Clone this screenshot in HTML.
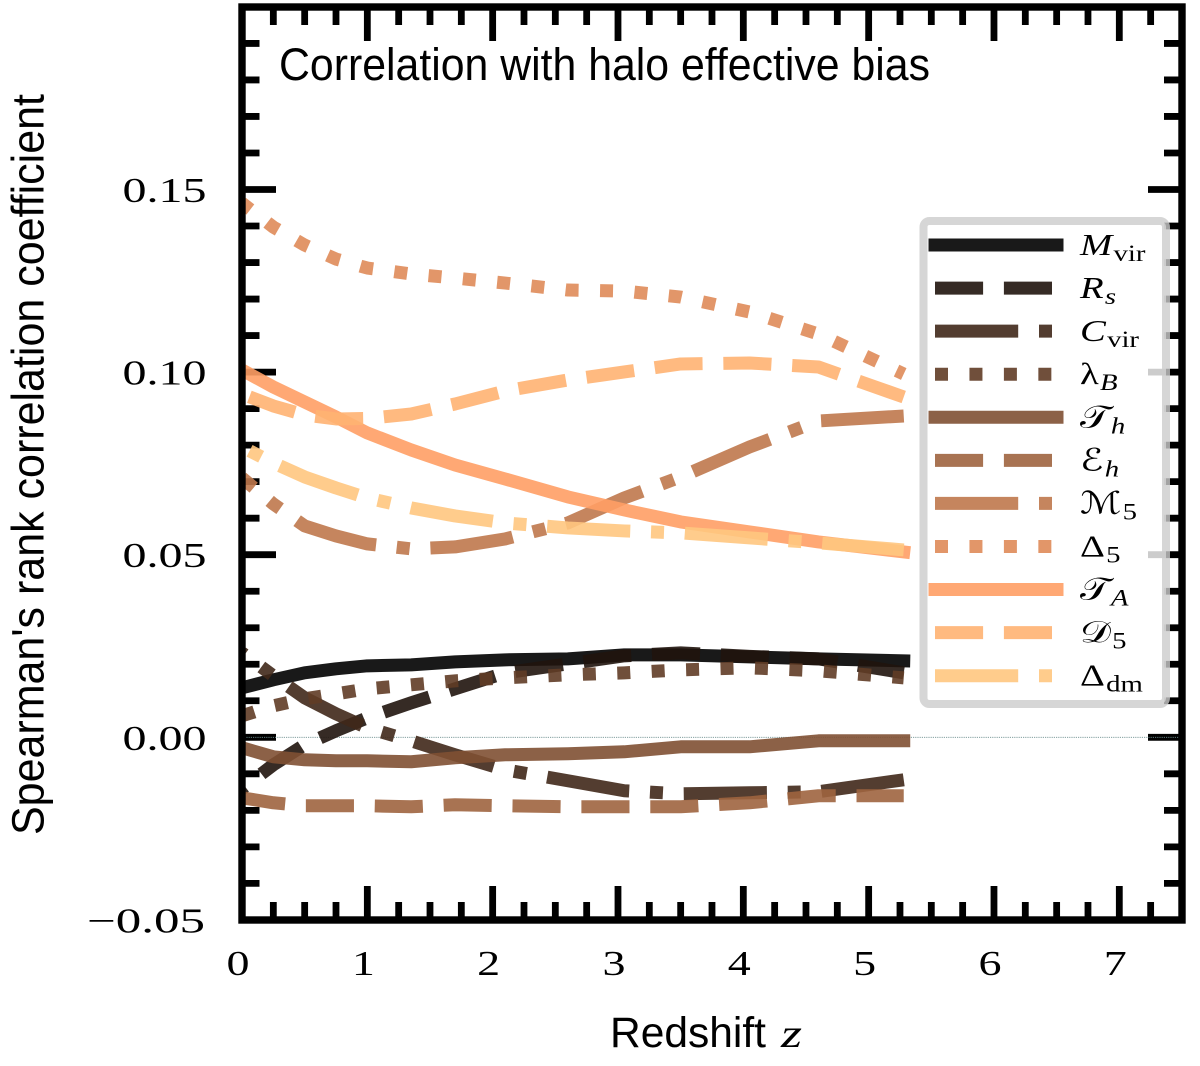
<!DOCTYPE html>
<html lang="en">
<head>
<meta charset="utf-8">
<title>Correlation with halo effective bias</title>
<style>
html,body{margin:0;padding:0;background:#fff;}
svg{display:block;}
text{fill:#000;}
.sans{font-family:"Liberation Sans",sans-serif;}
.serif{font-family:"Liberation Serif","DejaVu Serif",serif;}
</style>
</head>
<body>
<svg id="chart" xmlns="http://www.w3.org/2000/svg" width="1200" height="1066" viewBox="0 0 1200 1066">
  <defs><clipPath id="axes-clip"><rect x="242" y="7" width="940" height="913"/></clipPath></defs>
  <g id="ticks"></g>
  <line id="zero-line" stroke="#6f9090" stroke-width="0.9" stroke-dasharray="1.2 1"/>
  <g id="series" clip-path="url(#axes-clip)"></g>
  <g id="spines"></g>
  <g id="tick-labels" class="serif" font-size="35"></g>
  <text class="sans" x="279" y="80" font-size="45" textLength="651" lengthAdjust="spacingAndGlyphs">Correlation with halo effective bias</text>
  <text class="sans" font-size="45" transform="translate(43.5,835) rotate(-90)" textLength="741" lengthAdjust="spacingAndGlyphs">Spearman's rank correlation coefficient</text>
  <text class="sans" x="610" y="1047" font-size="43" textLength="156" lengthAdjust="spacingAndGlyphs">Redshift</text>
  <text class="serif" font-size="40" font-style="italic" transform="translate(781,1047) scale(1.35,1)">z</text>
  <g id="legend">
    <rect x="923.5" y="221" width="242.5" height="483" rx="6" fill="#fff" fill-opacity="0.8" stroke="#ccc" stroke-opacity="0.8" stroke-width="8"/>
  </g>
</svg>
<script>
// Redshift sample points
const redshift = [0, 0.25, 0.5, 0.75, 1.0, 1.35, 1.7, 2.1, 2.6, 3.05, 3.5, 4.05, 4.6, 5.28];

// Spearman rank correlation per property
const mVir   = [0.01355, 0.01574, 0.01765, 0.01875, 0.01957, 0.01984, 0.02066, 0.02121, 0.02148, 0.02258, 0.02258, 0.02203, 0.02148, 0.02094];
const rS     = [-0.01409, -0.00753, -0.00205, 0.00178, 0.00534, 0.00944, 0.01327, 0.01765, 0.02011, 0.02230, 0.02313, 0.02217, 0.02148, 0.01765];
const cVir   = [0.02313, 0.01683, 0.01081, 0.00643, 0.00260, -0.00096, -0.00479, -0.00889, -0.01190, -0.01464, -0.01546, -0.01519, -0.01492, -0.01163];
const lambdaB = [0.00588, 0.00862, 0.01054, 0.01190, 0.01327, 0.01437, 0.01546, 0.01628, 0.01710, 0.01765, 0.01847, 0.01902, 0.01820, 0.01628];
const tH     = [-0.00287, -0.00534, -0.00616, -0.00643, -0.00643, -0.00670, -0.00561, -0.00479, -0.00452, -0.00397, -0.00260, -0.00260, -0.00096, -0.00096];
const eH     = [-0.01656, -0.01793, -0.01875, -0.01875, -0.01875, -0.01902, -0.01847, -0.01875, -0.01902, -0.01902, -0.01902, -0.01793, -0.01601, -0.01601];
const m5     = [0.07102, 0.06390, 0.05788, 0.05514, 0.05296, 0.05159, 0.05213, 0.05432, 0.05870, 0.06554, 0.07129, 0.07950, 0.08662, 0.08798];
const delta5 = [0.14628, 0.13971, 0.13478, 0.13095, 0.12849, 0.12685, 0.12575, 0.12438, 0.12247, 0.12219, 0.12055, 0.11645, 0.11043, 0.09948];
const tA     = [0.10057, 0.09592, 0.09182, 0.08771, 0.08333, 0.07868, 0.07457, 0.07074, 0.06582, 0.06226, 0.05898, 0.05624, 0.05350, 0.05077];
const d5     = [0.09401, 0.09072, 0.08826, 0.08716, 0.08730, 0.08853, 0.09127, 0.09483, 0.09784, 0.10003, 0.10222, 0.10249, 0.10139, 0.09318];
const deltaDm = [0.07950, 0.07512, 0.07129, 0.06828, 0.06554, 0.06281, 0.06062, 0.05870, 0.05733, 0.05651, 0.05597, 0.05460, 0.05323, 0.05131];

// Tick labels
const xTickLabels = ['0', '1', '2', '3', '4', '5', '6', '7'];
const yTickLabels = ['\u22120.05', '0.00', '0.05', '0.10', '0.15'];

// Axis functions
const xScale = z => 242 + 125.33 * z;
const yScale = v => 737.3 - 3652 * v;

const NS = 'http://www.w3.org/2000/svg';
const LW = 13;
const DASH = {
  solid: 'none',
  dashed: [3.7, 1.6].map(k => k * LW).join(' '),
  dashdot: [6.4, 1.6, 1, 1.6].map(k => k * LW).join(' '),
  dotted: [1, 1.65].map(k => k * LW).join(' ')
};

function node(tag, attrs, parent) {
  const el = document.createElementNS(NS, tag);
  for (const k in attrs) el.setAttribute(k, attrs[k]);
  parent.appendChild(el);
  return el;
}

// Ticks
const tickGroup = document.getElementById('ticks');
function drawTick(x1, y1, x2, y2) {
  const el = node('line', {x1, y1, x2, y2, stroke: '#000', 'stroke-width': 6.8}, tickGroup);
  
  
}
for (let i = 0; i <= 30; i++) {
  const x = xScale(i * 0.25);
  const major = i % 4 === 0;
  if (i > 0) {
    drawTick(x, 920, x, major ? 886 : 902);
    drawTick(x, 7, x, major ? 41 : 25);
  }
}
for (let i = 1; i < 25; i++) {
  const y = yScale(-0.05 + i * 0.01);
  const major = i % 5 === 0;
  drawTick(242, y, major ? 276 : 259.5, y);
  drawTick(1182, y, major ? 1148 : 1164, y);
}

// Zero line
const zeroLine = document.getElementById('zero-line');
zeroLine.setAttribute('x1', xScale(0));
zeroLine.setAttribute('x2', xScale(7.5));
zeroLine.setAttribute('y1', yScale(0));
zeroLine.setAttribute('y2', yScale(0));

// Series
const seriesGroup = document.getElementById('series');
function drawSeries(name, values, color, kind, offset) {
  const d = values.map((v, i) => (i ? 'L' : 'M') + xScale(redshift[i]).toFixed(2) + ' ' + yScale(v).toFixed(2)).join(' ');
  const el = node('path', {
    d: d, fill: 'none', stroke: color, 'stroke-opacity': 0.9, 'stroke-width': LW,
    'stroke-linejoin': 'round',
    'stroke-linecap': kind === 'solid' ? 'square' : 'butt',
    'stroke-dasharray': DASH[kind],
    'stroke-dashoffset': offset
  }, seriesGroup);
  
  
}
drawSeries('series-m-vir', mVir, '#000000', 'solid', 0);
drawSeries('series-r-s', rS, '#20140d', 'dashed', 44.4);
drawSeries('series-c-vir', cVir, '#402819', 'dashdot', 80);
drawSeries('series-lambda-b', lambdaB, '#603c26', 'dotted', 0);
drawSeries('series-t-h', tH, '#805033', 'solid', 0);
drawSeries('series-e-h', eH, '#9f643f', 'dashed', 4.5);
drawSeries('series-m-5', m5, '#bf784c', 'dashdot', 68);
drawSeries('series-delta-5', delta5, '#df8b59', 'dotted', 2.5);
drawSeries('series-t-a', tA, '#ff9f65', 'solid', 0);
drawSeries('series-d-5', d5, '#ffb372', 'dashed', 61);
drawSeries('series-delta-dm', deltaDm, '#ffc77f', 'dashdot', 95.5);

// Spines
const spineGroup = document.getElementById('spines');
const frame = node('rect', {x: 242, y: 7, width: 940, height: 913, fill: 'none', stroke: '#000', 'stroke-width': 7.4}, spineGroup);



// Tick labels
const labelGroup = document.getElementById('tick-labels');
xTickLabels.forEach(label => {
  const t = node('text', {x: xScale(Number(label)) - 15.5, y: 975, textLength: 23, lengthAdjust: 'spacingAndGlyphs'}, labelGroup);
  t.textContent = label;
  
  
});
yTickLabels.forEach(label => {
  const value = Number(label.replace('\u2212', '-'));
  const negative = value < 0;
  const t = node('text', {
    x: negative ? 87 : 122.5,
    y: yScale(value) + 12.5,
    textLength: negative ? 118 : 84,
    lengthAdjust: 'spacingAndGlyphs'
  }, labelGroup);
  t.textContent = label;
  
  
});

// Legend
const legendGroup = document.getElementById('legend');
const legendNames = [
  ['M', 'vir', 'italic', '#000000', 'solid'],
  ['R', 's', 'italic', '#20140d', 'dashed'],
  ['C', 'vir', 'italic', '#402819', 'dashdot'],
  ['\u03BB', 'B', 'normal', '#603c26', 'dotted'],
  ['\uD835\uDCAF', 'h', 'normal', '#805033', 'solid'],
  ['\u2130', 'h', 'normal', '#9f643f', 'dashed'],
  ['\u2133', '5', 'normal', '#bf784c', 'dashdot'],
  ['\u0394', '5', 'normal', '#df8b59', 'dotted'],
  ['\uD835\uDCAF', 'A', 'normal', '#ff9f65', 'solid'],
  ['\uD835\uDC9F', '5', 'normal', '#ffb372', 'dashed'],
  ['\u0394', 'dm', 'normal', '#ffc77f', 'dashdot']
];
legendNames.forEach((item, i) => {
  const cy = 245 + 43.07 * i;
  const handle = node('line', {
    x1: 935, x2: 1057, y1: cy, y2: cy, stroke: item[3], 'stroke-opacity': 0.9, 'stroke-width': LW,
    'stroke-linecap': item[4] === 'solid' ? 'square' : 'butt',
    'stroke-dasharray': DASH[item[4]]
  }, legendGroup);
  
  
  const t = node('text', {
    transform: 'translate(1080 ' + (cy + 10).toFixed(2) + ') scale(1.25 1)',
    'font-size': 31, class: 'serif', 'font-style': item[2]
  }, legendGroup);
  
  
  t.appendChild(document.createTextNode(item[0]));
  const isLatinVar = item[1] === 's' || item[1] === 'h' || item[1] === 'A' || item[1] === 'B';
  const sub = node('tspan', {dy: 6, dx: 1, 'font-size': 23, 'font-style': isLatinVar ? 'italic' : 'normal'}, t);
  sub.textContent = item[1];
});
</script>
</body>
</html>
